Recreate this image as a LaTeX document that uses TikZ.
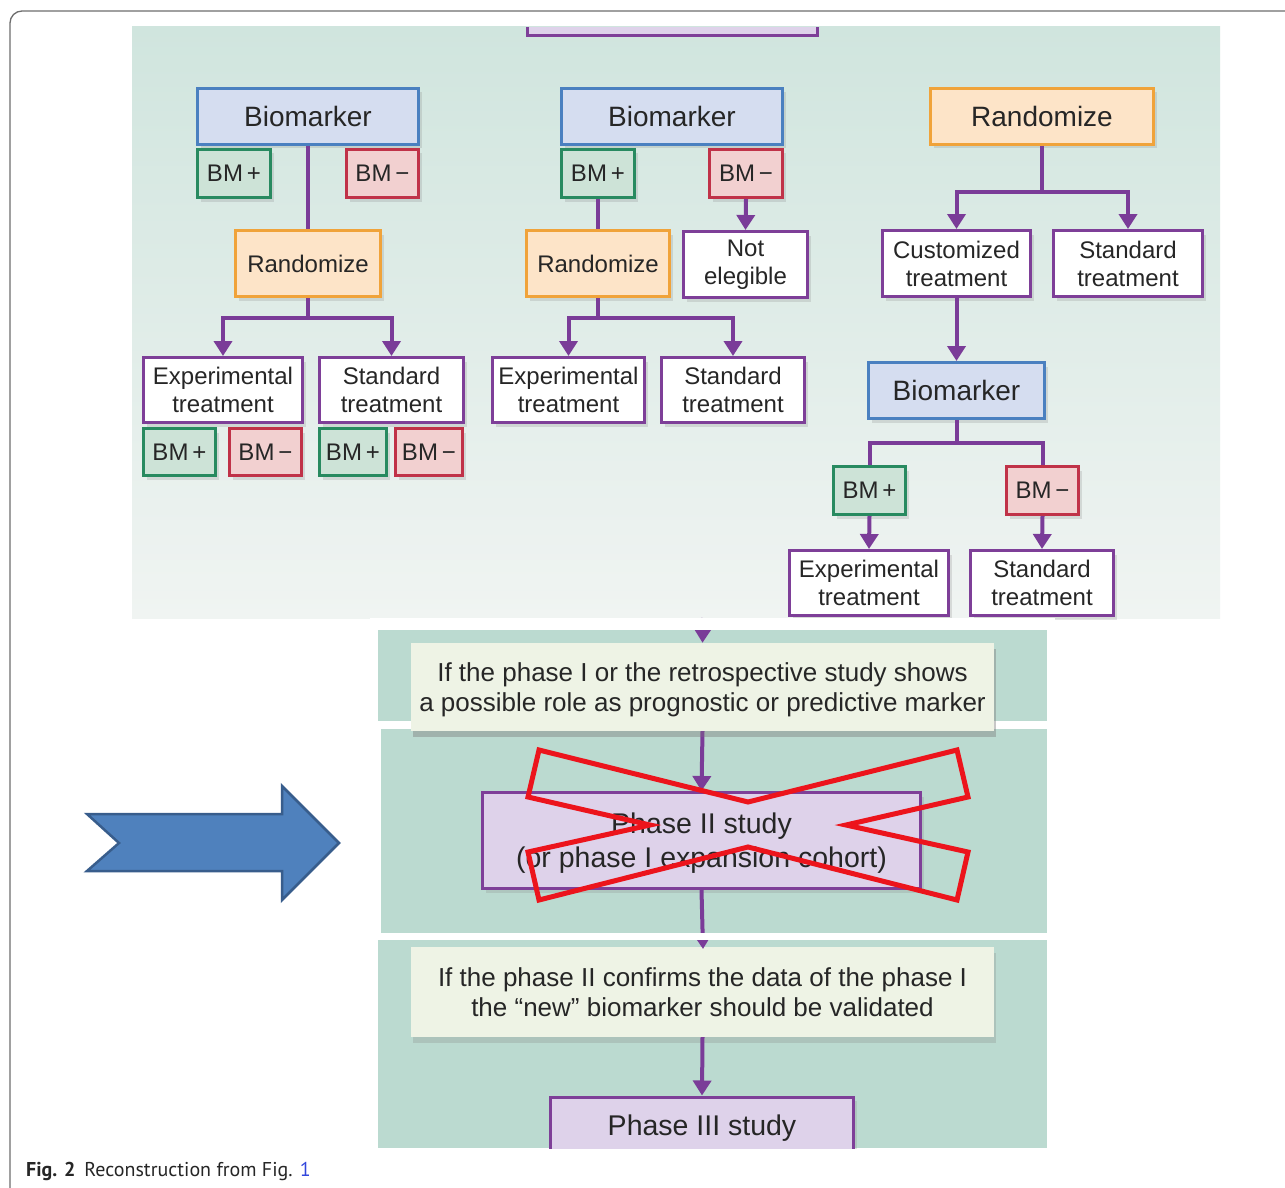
\documentclass[tikz,border=0pt]{standalone}
\usepackage{fontspec}
\setmainfont{Liberation Sans}
\newfontfamily\capfont{PT Sans}
\usetikzlibrary{arrows.meta,shadows}
\definecolor{connC}{RGB}{122,60,152}
\definecolor{bioB}{RGB}{74,128,192}
\definecolor{bioF}{RGB}{213,221,240}
\definecolor{posB}{RGB}{40,138,96}
\definecolor{posF}{RGB}{205,227,215}
\definecolor{negB}{RGB}{192,50,72}
\definecolor{negF}{RGB}{242,208,208}
\definecolor{orB}{RGB}{240,163,58}
\definecolor{orF}{RGB}{253,228,200}
\definecolor{trB}{RGB}{126,63,152}
\definecolor{phF}{RGB}{222,210,234}
\definecolor{panTop}{RGB}{208,229,222}
\definecolor{panBot}{RGB}{240,244,242}
\definecolor{panB}{RGB}{187,218,208}
\definecolor{txtF}{RGB}{238,243,229}
\definecolor{arrF}{RGB}{79,129,189}
\definecolor{arrB}{RGB}{56,93,140}
\definecolor{xred}{RGB}{236,20,28}
\definecolor{capblue}{RGB}{50,70,220}
\definecolor{frameC}{RGB}{110,110,110}
\tikzset{
  boxbase/.style={draw, line width=3pt, align=center, inner sep=0pt, text=black!85,
    drop shadow={opacity=0.22, shadow xshift=3pt, shadow yshift=-4pt}},
  fsmall/.style={font=\fontsize{24}{28}\selectfont},
  fbig/.style={font=\fontsize{28}{32}\selectfont},
  bluebox/.style={boxbase, draw=bioB, fill=bioF, fbig},
  posbox/.style={boxbase, draw=posB, fill=posF, fsmall},
  negbox/.style={boxbase, draw=negB, fill=negF, fsmall},
  orbox/.style={boxbase, draw=orB, fill=orF},
  trbox/.style={boxbase, draw=trB, fill=white, fsmall},
  phbox/.style={boxbase, draw=trB, fill=phF, font=\fontsize{28.5}{34}\selectfont},
  notebox/.style={draw=none, fill=txtF, align=center, inner sep=0pt, text=black!85,
    font=\fontsize{26}{30}\selectfont,
    drop shadow={opacity=0.25, shadow xshift=2pt, shadow yshift=-6pt}},
  cline/.style={draw=connC, line width=4pt},
  carrow/.style={cline, -{Triangle[width=18pt,length=15pt]}},
}
\begin{document}
\begin{tikzpicture}[x=1pt,y=-1pt]
\useasboundingbox (0,0) rectangle (1285,1188);
\clip (0,0) rectangle (1285,1188);
\fill[white] (0,0) rectangle (1285,1188);
% outer frame
\draw[frameC, line width=1.3pt, rounded corners=12pt] (10,1210) -- (10,11) -- (1310,11);
% top panel
\shade[top color=panTop, bottom color=panBot] (132,27) rectangle (1220,618);
% partial box at top
\fill[phF] (527,27) rectangle (817,36);
\draw[trB, line width=3pt] (527,27) -- (527,36) -- (817,36) -- (817,27);

% ---------- left column ----------
\node[bluebox, minimum width=221pt, minimum height=56pt] (bio1) at (308,116.5) {Biomarker};
\node[posbox, minimum width=73pt, minimum height=48pt] (bp1) at (234,173.5) {BM\,+};
\node[negbox, minimum width=72pt, minimum height=48pt] (bm1) at (382.5,173.5) {BM\,−};
\node[orbox, fsmall, minimum width=145pt, minimum height=66pt] (rnd1) at (308,263.5) {Randomize};
\node[trbox, minimum width=159pt, minimum height=65pt] (exp1) at (223,390) {Experimental\\treatment};
\node[trbox, minimum width=144pt, minimum height=65pt] (std1) at (391.5,390) {Standard\\treatment};
\node[posbox, minimum width=72pt, minimum height=47pt] (bp1a) at (179.5,452) {BM\,+};
\node[negbox, minimum width=72pt, minimum height=47pt] (bm1a) at (265.5,452) {BM\,−};
\node[posbox, minimum width=67pt, minimum height=47pt] (bp1b) at (353,452) {BM\,+};
\node[negbox, minimum width=67pt, minimum height=47pt] (bm1b) at (429,452) {BM\,−};
\draw[cline] (bio1.south) -- (rnd1.north);
\draw[carrow] (rnd1.south) -- ++(0,20) -| (exp1.north);
\draw[carrow] (rnd1.south) -- ++(0,20) -| (std1.north);

% ---------- middle column ----------
\node[bluebox, minimum width=221pt, minimum height=56pt] (bio2) at (672,116.5) {Biomarker};
\node[posbox, minimum width=73pt, minimum height=48pt] (bp2) at (598,173.5) {BM\,+};
\node[negbox, minimum width=73pt, minimum height=48pt] (bm2) at (746,173.5) {BM\,−};
\node[orbox, fsmall, minimum width=143pt, minimum height=66pt] (rnd2) at (598,263.5) {Randomize};
\node[trbox, minimum width=124pt, minimum height=66pt] (ne2) at (745.5,264.5) {Not\\elegible};
\node[trbox, minimum width=152pt, minimum height=65pt] (exp2) at (568.5,390) {Experimental\\treatment};
\node[trbox, minimum width=143pt, minimum height=65pt] (std2) at (733,390) {Standard\\treatment};
\draw[cline] (bp2.south) -- (rnd2.north);
\draw[carrow] (bm2.south) -- (ne2.north);
\draw[carrow] (rnd2.south) -- ++(0,20) -| (exp2.north);
\draw[carrow] (rnd2.south) -- ++(0,20) -| (std2.north);

% ---------- right column ----------
\node[orbox, fbig, minimum width=223pt, minimum height=56pt] (rnd3) at (1042,116.5) {Randomize};
\node[trbox, minimum width=148pt, minimum height=66pt] (cus3) at (956.5,263.5) {Customized\\treatment};
\node[trbox, minimum width=149pt, minimum height=66pt] (std3) at (1128,263.5) {Standard\\treatment};
\node[bluebox, minimum width=176pt, minimum height=56pt] (bio3) at (956.5,390.5) {Biomarker};
\node[posbox, minimum width=72pt, minimum height=48pt] (bp3) at (869.5,490.5) {BM\,+};
\node[negbox, minimum width=72pt, minimum height=48pt] (bm3) at (1042.5,490.5) {BM\,−};
\node[trbox, minimum width=159pt, minimum height=65pt] (exp3) at (869,583) {Experimental\\treatment};
\node[trbox, minimum width=143pt, minimum height=65pt] (std3b) at (1042,583) {Standard\\treatment};
\draw[carrow] (rnd3.south) -- ++(0,46) -| (cus3.north);
\draw[carrow] (rnd3.south) -- ++(0,46) -| (std3.north);
\draw[carrow] (cus3.south) -- (bio3.north);
\draw[cline] (bio3.south) -- ++(0,23) -| (bp3.north);
\draw[cline] (bio3.south) -- ++(0,23) -| (bm3.north);
\draw[carrow] (bp3.south) -- (exp3.north);
\draw[carrow] (bm3.south) -- (std3b.north);

% ---------- bottom panels ----------
\fill[panB] (378,630) rectangle (1047,721);
\fill[panB] (381,729) rectangle (1047,933);
\fill[panB] (378,940) rectangle (1047,1148);

\node[notebox, text depth=0pt, minimum width=583pt, minimum height=88pt] (txt1) at (702.5,687) {If the phase I or the retrospective study shows\\a possible role as prognostic or predictive marker};
\node[phbox, text depth=0pt, minimum width=438pt, minimum height=96pt] (ph2) at (701.5,840.5) {Phase II study\\(or phase I expansion cohort)};
\node[notebox, minimum width=583pt, minimum height=90pt] (txt2) at (702.5,992) {If the phase II confirms the data of the phase I\\the “new” biomarker should be validated};
\begin{scope}
\clip (378,940) rectangle (1047,1148);
\node[phbox, minimum width=303pt, minimum height=62pt] (ph3) at (702,1128) {Phase III study};
\end{scope}
\coordinate (inA) at (703,618);
\coordinate (inB) at (703,949);
\draw[carrow] (inA) -- (txt1.north);
\draw[carrow] (txt1.south) -- (ph2.north);
\draw[carrow] (ph2.south) -- (inB);
\draw[carrow] (txt2.south) -- (ph3.north);
% white gaps between panels
\fill[white] (370,618) rectangle (1055,630);
\fill[white] (370,933) rectangle (1055,940);
% redraw first note over gap
\node[notebox, text depth=0pt, minimum width=583pt, minimum height=88pt] at (702.5,687) {If the phase I or the retrospective study shows\\a possible role as prognostic or predictive marker};

% red cross
\draw[xred, line width=5pt, line join=miter] (539,750) -- (748,802) -- (957,750) -- (968,797) -- (846,825) -- (968,852) -- (957,900) -- (748,847) -- (539,900) -- (528,852) -- (650,825) -- (528,797) -- cycle;

% blue arrow
\filldraw[fill=arrF, draw=arrB, line width=2.5pt, line join=miter] (87,814) -- (282,814) -- (282,786) -- (339,843) -- (282,900) -- (282,871) -- (87,871) -- (119,843) -- cycle;

% caption
\node[anchor=base west, inner sep=0pt, text=black!85, font=\capfont\fontsize{20}{23}\selectfont] (cap) at (26,1176) {\textbf{Fig. 2}\hspace{0.45em}Reconstruction from Fig. \textcolor{capblue}{1}};
\end{tikzpicture}
\end{document}
